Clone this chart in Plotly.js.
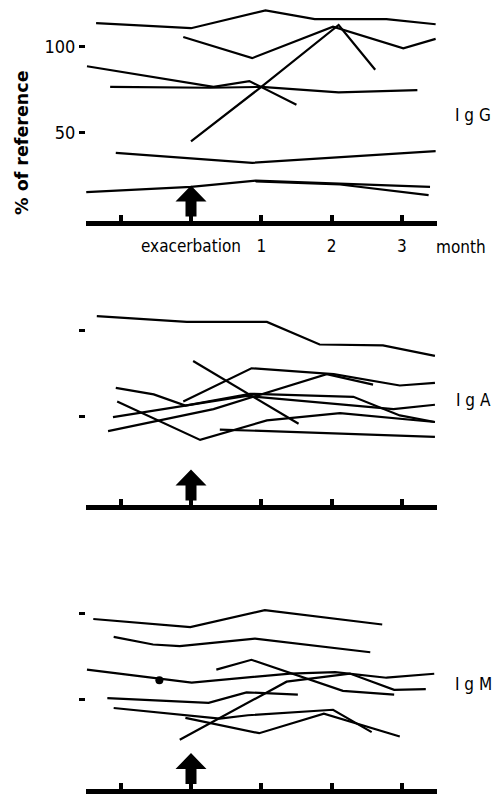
<!DOCTYPE html>
<html>
<head>
<meta charset="utf-8">
<script src="https://cdn.plot.ly/plotly-3.0.1.min.js"></script>
<style>html,body{margin:0;padding:0;background:#fff;}#chart{width:496px;height:797px;}</style>
</head>
<body>
<div id="chart"></div>
<script>
// ---------- DATA (time in months relative to exacerbation; values in % of reference) ----------
const tickMonths = [-1, 0, 1, 2, 3];
const tickLabels = ['', 'exacerbation', '1', '2', '3'];
const yTickValues = [50, 100];
const yTickLabels = ['50', '100'];
const panelNames = ['I g G', 'I g A', 'I g M'];

const iggMonths = [
  [-1.35, 0, 1.06, 1.76, 2.78, 3.48],
  [-0.11, 0.87, 2.02, 3.02, 3.48],
  [0, 1.0, 2.1, 2.62],
  [-1.48, 0.32, 0.83, 1.50],
  [-1.15, 0.27, 1.0, 2.1, 3.22],
  [-1.07, 0.87, 3.48],
  [-1.49, 0, 0.92, 2.12, 3.40],
  [0.92, 2.12, 3.38]
];
const iggValues = [
  [113.5, 110.6, 121, 115.9, 115.9, 112.9],
  [105.5, 93.2, 111.5, 98.9, 104.4],
  [44.9, 76.5, 112.5, 86.5],
  [88.5, 76.5, 79.9, 66.1],
  [76.5, 76.0, 76.5, 73.3, 74.6],
  [38.2, 32.4, 39.2],
  [15.3, 18.4, 22.0, 20.3, 18.4],
  [21.6, 19.8, 13.6]
];

const igaMonths = [
  [-1.34, -0.06, 1.08, 1.83, 2.73, 3.47],
  [0.03, 1.53],
  [-0.11, 0.86, 2.03, 2.97, 3.47],
  [-1.18, 0.32, 1.93, 2.59],
  [-1.07, -0.53, -0.08, 0.84, 2.31, 2.97, 3.47],
  [-1.11, 0.79, 2.88, 3.47],
  [-1.05, 0.13, 1.08, 2.12, 3.47],
  [0.41, 3.47]
];
const igaValues = [
  [108.3, 104.9, 104.9, 91.8, 91.3, 85.2],
  [82.2, 45.8],
  [58.7, 78.0, 74.6, 68.0, 69.5],
  [41.5, 54.3, 74.6, 68.5],
  [66.6, 62.8, 56.3, 63.2, 61.4, 50.6, 46.8],
  [49.6, 61.9, 54.3, 56.8],
  [58.7, 36.4, 47.7, 51.9, 46.8],
  [42.4, 38.2]
];

const igmMonths = [
  [-1.39, -0.01, 1.05, 2.72],
  [-1.10, -0.54, -0.16, 0.91, 2.55],
  [-1.48, 0.01, 1.41, 2.05, 2.78, 3.46],
  [0.36, 0.86, 2.16, 2.89],
  [-0.16, 1.36, 2.26, 2.89, 3.34],
  [-1.19, 0.25, 0.79, 1.52],
  [-1.10, 0.41, 0.81, 2.02, 2.57],
  [-0.08, 0.97, 1.89, 2.97]
];
const igmValues = [
  [97.0, 92.3, 102.1, 93.8],
  [86.6, 82.2, 81.3, 85.6, 77.7],
  [67.6, 60.1, 65.3, 66.1, 62.9, 65.2],
  [67.6, 73.3, 55.3, 53.1],
  [26.9, 60.6, 65.3, 55.9, 56.3],
  [51.0, 48.3, 54.4, 53.1],
  [45.3, 39.2, 41.1, 44.3, 31.3],
  [39.6, 30.7, 42.0, 28.8]
];
const igmDotMonth = [-0.45];
const igmDotValue = [61.5];
const exacerbationMonth = 0;

// ---------- LAYOUT GEOMETRY ----------
const W = 496, H = 797;
const X0PX = 191, XSCALE = 70.3, YSCALE = 1.76;
const xDomPx = [86, 437];
const xRange = xDomPx.map(p => (p - X0PX) / XSCALE);
const xDomain = xDomPx.map(p => p / W);
const panels = [
  {axisPx: 223.5, topPx: 0},
  {axisPx: 507.5, topPx: 280},
  {axisPx: 791, topPx: 560}
];
const LW = 5;

const FONT = '"DejaVu Sans Condensed", "Liberation Sans", sans-serif';
const FS = 17;

const traces = [];
const groups = [[iggMonths, iggValues], [igaMonths, igaValues], [igmMonths, igmValues]];
groups.forEach((g, i) => {
  const sx = i === 0 ? 'x' : 'x' + (i + 1);
  const sy = i === 0 ? 'y' : 'y' + (i + 1);
  g[0].forEach((xs, k) => {
    traces.push({
      x: xs, y: g[1][k], xaxis: sx, yaxis: sy,
      type: 'scatter', mode: 'lines',
      line: {color: '#000', width: 2.2},
      hoverinfo: 'skip'
    });
  });
});
traces.push({
  x: igmDotMonth, y: igmDotValue, xaxis: 'x3', yaxis: 'y3',
  type: 'scatter', mode: 'markers',
  marker: {color: '#000', size: 8}, hoverinfo: 'skip'
});

const layout = {
  width: W, height: H,
  margin: {l: 0, r: 0, t: 0, b: 0},
  paper_bgcolor: '#fff', plot_bgcolor: 'rgba(0,0,0,0)',
  showlegend: false,
  shapes: [],
  annotations: []
};

const arrowPath = 'M -5.5,2 L 5.5,2 L 5.5,17 L 15.5,17 L 0,33 L -15.5,17 L -5.5,17 Z';

panels.forEach((p, i) => {
  const bottomPx = p.axisPx - LW / 2;
  const yDomain = [1 - bottomPx / H, 1 - p.topPx / H];
  const yRange = [-(p.axisPx - bottomPx) / YSCALE, (p.axisPx - p.topPx) / YSCALE];
  const xn = i === 0 ? 'xaxis' : 'xaxis' + (i + 1);
  const yn = i === 0 ? 'yaxis' : 'yaxis' + (i + 1);
  const xid = i === 0 ? 'x' : 'x' + (i + 1);
  const yid = i === 0 ? 'y' : 'y' + (i + 1);
  layout[xn] = {
    domain: xDomain, range: xRange, anchor: yid,
    showgrid: false, zeroline: false,
    showline: true, linewidth: LW, linecolor: '#000',
    ticks: 'inside', ticklen: 6, tickwidth: 4, tickcolor: '#000',
    tickvals: tickMonths, ticktext: tickLabels,
    showticklabels: i === 0,
    ticklabelstandoff: 6,
    tickfont: {family: FONT, size: FS, color: '#000'},
    fixedrange: true
  };
  layout[yn] = {
    domain: yDomain, range: yRange, anchor: xid,
    showgrid: false, zeroline: false, showline: false,
    ticks: 'outside', ticklen: 6, tickwidth: 3, tickcolor: '#000',
    tickvals: yTickValues, ticktext: yTickLabels,
    showticklabels: i === 0,
    tickfont: {family: FONT, size: FS + 1, color: '#000'},
    fixedrange: true
  };
  layout.shapes.push({
    type: 'path', xref: xid, yref: yid,
    xsizemode: 'pixel', ysizemode: 'pixel',
    xanchor: exacerbationMonth, yanchor: 0,
    path: arrowPath,
    fillcolor: '#000', line: {color: '#000', width: 0}
  });
  const labelY = [115, 400, 684][i];
  layout.annotations.push({
    xref: 'paper', yref: 'paper', x: 473 / W, y: 1 - labelY / H,
    text: panelNames[i], showarrow: false,
    xanchor: 'center', yanchor: 'middle',
    font: {family: FONT, size: FS, color: '#000'}
  });
});

layout.annotations.push({
  xref: 'paper', yref: 'paper', x: 461 / W, y: 1 - 247 / H,
  text: 'month', showarrow: false, xanchor: 'center', yanchor: 'middle',
  font: {family: FONT, size: FS, color: '#000'}
});
layout.annotations.push({
  xref: 'paper', yref: 'paper', x: 22.5 / W, y: 1 - 142.5 / H,
  text: '<b>% of reference</b>', showarrow: false, textangle: -90,
  xanchor: 'center', yanchor: 'middle',
  font: {family: '"DejaVu Sans", sans-serif', size: 17.5, color: '#000'}
});

Plotly.newPlot('chart', traces, layout, {staticPlot: true, displayModeBar: false});
</script>
</body>
</html>
